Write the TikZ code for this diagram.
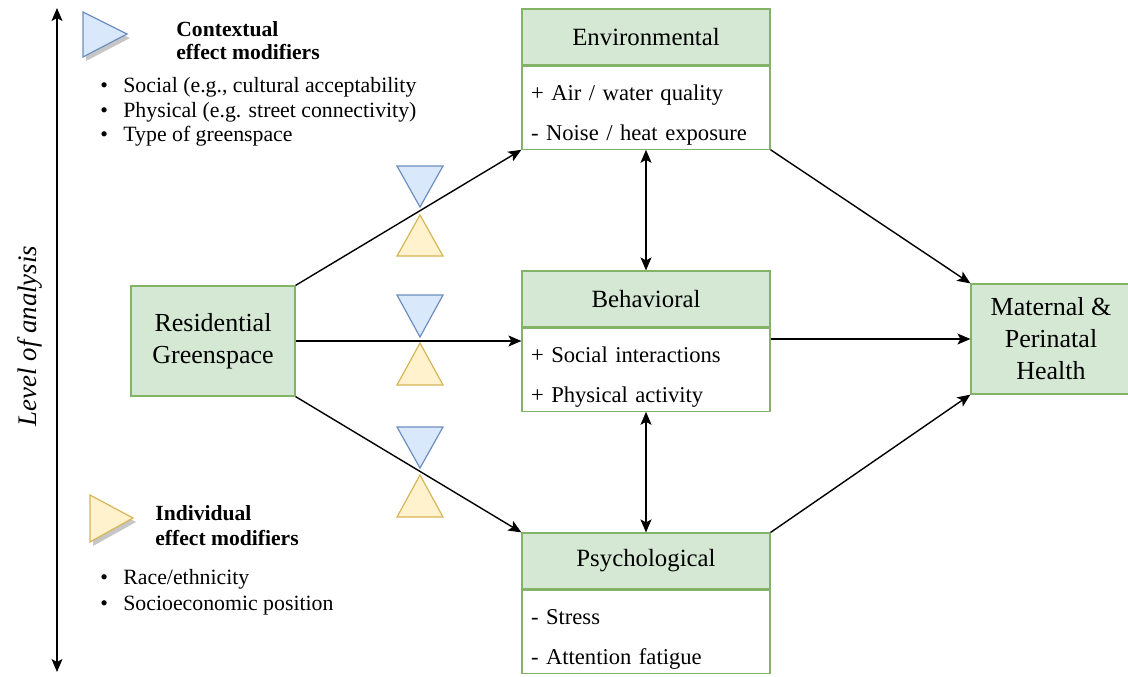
\documentclass[tikz,border=0pt]{standalone}
\usepackage{fontspec}
\setmainfont{Liberation Serif}
\usetikzlibrary{positioning, arrows.meta}

\definecolor{grfill}{HTML}{D5E8D4}
\definecolor{grline}{HTML}{82B366}
\definecolor{blfill}{HTML}{DAE8FC}
\definecolor{blline}{HTML}{6C8EBF}
\definecolor{ylfill}{HTML}{FFF2CC}
\definecolor{ylline}{HTML}{D6B656}

\tikzset{
  hdr/.style={draw=grline, fill=grfill, line width=0.6pt, minimum width=124pt, minimum height=28pt, inner sep=0pt, font=\fontsize{12.4}{14}\selectfont},
  itm/.style={draw=grline, fill=white, line width=0.6pt, minimum width=124pt, minimum height=41.5pt, text width=115pt, inner xsep=4.5pt, inner ysep=0pt, align=left, font=\fontsize{11.3}{20}\selectfont},
  endbox/.style={draw=grline, fill=grfill, line width=0.6pt, inner sep=0pt, align=center, font=\fontsize{13}{16}\selectfont},
  ctx/.style={draw=blline, fill=blfill, line width=0.6pt},
  ind/.style={draw=ylline, fill=ylfill, line width=0.6pt},
  link/.style={->, line width=0.7pt},
  legend/.style={align=left, inner sep=2pt}
}

\begin{document}
\begin{tikzpicture}[x=0.5pt, y=-0.5pt, >={Stealth[length=6.5pt, width=5.5pt, inset=1.5pt]}]
\useasboundingbox (0,0) rectangle (1128,676);

% level of analysis axis
\coordinate (AxTop) at (57,8);
\coordinate (AxBot) at (57,672);
\draw [<->, line width=0.7pt] (AxTop) -- (AxBot);
\node[rotate=90, font=\fontsize{13.4}{15}\selectfont\itshape] (Level) at (30,336) {Level of analysis};

% legend
\fill [gray!45] (86,16) -- (86,61) -- (130,38) -- cycle;
\draw [ctx] (83,12) -- (83,57) -- (127,34) -- cycle;
\node[legend, anchor=west, font=\fontsize{10.8}{11.5}\selectfont\bfseries] (CtxTitle) at (172,41) {Contextual\\effect modifiers};
\node[legend, anchor=west, font=\fontsize{10.9}{12.25}\selectfont] (CtxList) at (96,112) {\makebox[11.5pt][l]{\textbullet}Social (e.g., cultural acceptability\\\makebox[11.5pt][l]{\textbullet}Physical (e.g. street connectivity)\\\makebox[11.5pt][l]{\textbullet}Type of greenspace};

\fill [gray!45] (93,499) -- (93,546) -- (136,522) -- cycle;
\draw [ind] (90,495) -- (90,542) -- (133,518) -- cycle;
\node[legend, anchor=west, font=\fontsize{10.8}{12.5}\selectfont\bfseries] (IndTitle) at (151,525.5) {Individual\\effect modifiers};
\node[legend, anchor=west, font=\fontsize{10.9}{13}\selectfont] (IndList) at (96,592) {\makebox[11.5pt][l]{\textbullet}Race/ethnicity\\\makebox[11.5pt][l]{\textbullet}Socioeconomic position};

% boxes
\node[endbox, minimum width=82pt, minimum height=55pt] (Res) at (213,341) {Residential\\Greenspace};
\node[endbox, minimum width=80pt, minimum height=55pt] (Mat) at (1051,339) {Maternal \&\\Perinatal\\Health};

\node[hdr] (Env) at (646,37) {Environmental};
\node[itm, below=0pt of Env] (EnvBody) {\rule{0pt}{15pt}+ Air / water quality\\- Noise / heat exposure};
\node[hdr] (Beh) at (646,299) {Behavioral};
\node[itm, below=0pt of Beh] (BehBody) {\rule{0pt}{15pt}+ Social interactions\\+ Physical activity};
\node[hdr] (Psy) at (646,561) {Psychological};
\node[itm, below=0pt of Psy] (PsyBody) {\rule{0pt}{15pt}- Stress\\- Attention fatigue};

% modifiers on the paths
\draw [ctx] (397,166) -- (443,166) -- (420,207) -- cycle;
\draw [ind] (420,215) -- (397,256) -- (443,256) -- cycle;
\draw [ctx] (397,295) -- (443,295) -- (420,337) -- cycle;
\draw [ind] (420,343) -- (397,385) -- (443,385) -- cycle;
\draw [ctx] (397,427) -- (443,427) -- (420,468) -- cycle;
\draw [ind] (420,475) -- (397,517) -- (443,517) -- cycle;

% pathways
\draw [link] (Res.north east) -- (EnvBody.south west);
\draw [link] (Res.east) -- (Res.east -| BehBody.west);
\draw [link] (Res.south east) -- (Psy.north west);
\draw [link] (EnvBody.south east) -- (Mat.north west);
\draw [link] (Mat.west -| BehBody.east) -- (Mat.west);
\draw [link] (Psy.north east) -- (Mat.south west);
\draw [<->, line width=0.7pt] (EnvBody.south) -- (Beh.north);
\draw [<->, line width=0.7pt] (BehBody.south) -- (Psy.north);

\end{tikzpicture}
\end{document}
